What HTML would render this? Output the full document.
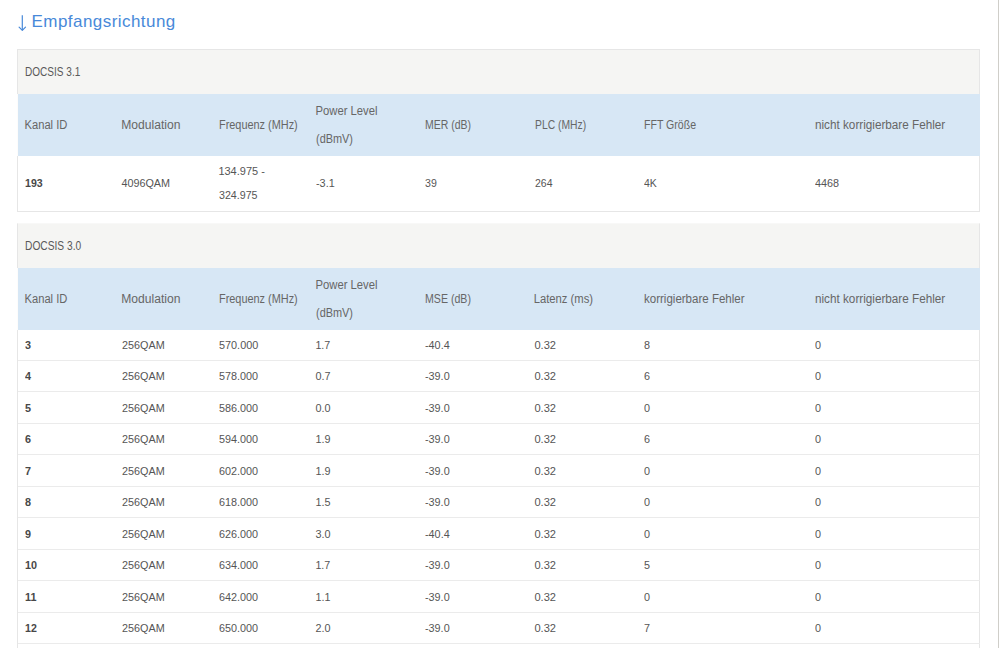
<!DOCTYPE html>
<html><head><meta charset="utf-8"><title>Empfangsrichtung</title>
<style>
html,body{margin:0;padding:0;background:#fff;}
body{width:999px;height:648px;overflow:hidden;position:relative;font-family:"Liberation Sans",sans-serif;}
.vline{position:absolute;left:998px;top:0;width:1px;height:648px;background:#cfcec9;}
h2{position:absolute;left:31.5px;top:10px;margin:0;font-weight:normal;font-size:17px;line-height:24px;letter-spacing:0.45px;color:#4889d9;white-space:nowrap;}
.arrow{position:absolute;left:0;top:0;}
.box{position:absolute;left:17px;width:961px;border:1px solid #e6e6e6;background:#fff;}
.cap{height:43.7px;background:#f5f5f3;color:#595959;font-size:12.3px;line-height:43.7px;padding-left:7px;}
table{border-collapse:collapse;table-layout:fixed;width:962px;margin:0;}
.s{display:inline-block;transform-origin:0 50%;white-space:nowrap;position:relative;}
th .s{top:1px;}
#t1 td .s{top:0px;}
#t2 td .s{top:0.3px;}
th,td{text-align:left;vertical-align:middle;padding:0 0 0 6.5px;overflow:visible;white-space:nowrap;}
tr.hd{background:#d7e7f5;}
tr.hd th:first-child{box-shadow:-1px 0 0 #fdfcfb;}
tr.hd th{height:62px;color:#666;font-weight:normal;font-size:12.3px;line-height:27.4px;}
tr.dr td{color:#555;font-size:11.5px;line-height:24.6px;border-bottom:1px solid #ebebeb;}
tr.dr td.b{font-weight:bold;color:#484848;}
#t1 .dr td{height:55.3px;border-bottom:0;}
#t2 .dr td{height:30.5px;}
#t2 .cap{height:43.5px;}
#t2 tr.dr.first td{height:30.3px;}
#t2{border-top-color:#f8f8f7;}
.cap .s{top:1px;}
</style></head><body>
<div class="vline"></div>
<svg class="arrow" width="40" height="40" viewBox="0 0 40 40"><path d="M22.3 15.3V30" fill="none" stroke="#4889d9" stroke-width="1.2"/><path d="M19.1 27.1L22.3 30.4L25.5 27.1" fill="none" stroke="#4889d9" stroke-width="1.2" stroke-linecap="round" stroke-linejoin="round"/></svg>
<h2>Empfangsrichtung</h2>
<div class="box" id="t1" style="top:49px;">
<div class="cap"><span class="s" style="transform:scaleX(0.8174)">DOCSIS 3.1</span></div>
<table><colgroup><col style="width:97px"><col style="width:97px"><col style="width:97px"><col style="width:109.5px"><col style="width:109.5px"><col style="width:109.5px"><col style="width:171px"><col style="width:171px"></colgroup>
<tr class='hd'><th><span class="s" style="transform:translateX(-0.5px) scaleX(0.9084)">Kanal ID</span></th><th><span class="s" style="transform:translateX(-0.8px) scaleX(0.9841)">Modulation</span></th><th><span class="s" style="transform:scaleX(0.8865)">Frequenz (MHz)</span></th><th><span class="s" style="transform:translateX(-0.5px) scaleX(0.9155)">Power Level</span><br><span class="s" style="transform:scaleX(0.8865)">(dBmV)</span></th><th><span class="s" style="transform:scaleX(0.8537)">MER (dB)</span></th><th><span class="s" style="transform:scaleX(0.8401)">PLC (MHz)</span></th><th><span class="s" style="transform:scaleX(0.8594)">FFT Größe</span></th><th><span class="s" style="transform:scaleX(0.9530)">nicht korrigierbare Fehler</span></th></tr>
<tr class='dr '><td class='b'><span class="s" style="transform:scaleX(0.9200)">193</span></td><td><span class="s" style="transform:translateX(-0.6px) scaleX(0.9396)">4096QAM</span></td><td><span class="s" style="transform:translateX(-0.6px) scaleX(0.9556)">134.975 -</span><br><span class="s" style="transform:scaleX(0.9274)">324.975</span></td><td><span class="s" style="transform:scaleX(0.9417)">-3.1</span></td><td><span class="s" style="transform:scaleX(0.9200)">39</span></td><td><span class="s" style="transform:scaleX(0.9121)">264</span></td><td><span class="s" style="transform:scaleX(0.9103)">4K</span></td><td><span class="s" style="transform:scaleX(0.9400)">4468</span></td></tr>
</table></div>
<div class="box" id="t2" style="top:223px;">
<div class="cap"><span class="s" style="transform:scaleX(0.8310)">DOCSIS 3.0</span></div>
<table><colgroup><col style="width:97px"><col style="width:97px"><col style="width:97px"><col style="width:109.5px"><col style="width:109.5px"><col style="width:109.5px"><col style="width:171px"><col style="width:171px"></colgroup>
<tr class='hd'><th><span class="s" style="transform:translateX(-0.5px) scaleX(0.9084)">Kanal ID</span></th><th><span class="s" style="transform:translateX(-0.8px) scaleX(0.9841)">Modulation</span></th><th><span class="s" style="transform:scaleX(0.8865)">Frequenz (MHz)</span></th><th><span class="s" style="transform:translateX(-0.5px) scaleX(0.9155)">Power Level</span><br><span class="s" style="transform:scaleX(0.8865)">(dBmV)</span></th><th><span class="s" style="transform:scaleX(0.8623)">MSE (dB)</span></th><th><span class="s" style="transform:translateX(-1.3px) scaleX(0.9150)">Latenz (ms)</span></th><th><span class="s" style="transform:scaleX(0.9372)">korrigierbare Fehler</span></th><th><span class="s" style="transform:scaleX(0.9530)">nicht korrigierbare Fehler</span></th></tr>
<tr class='dr first'><td class='b'><span class="s" style="transform:scaleX(0.9400)">3</span></td><td><span class="s" style="transform:scaleX(0.9406)">256QAM</span></td><td><span class="s" style="transform:scaleX(0.9442)">570.000</span></td><td><span class="s" style="transform:translateX(-0.6px) scaleX(0.9295)">1.7</span></td><td><span class="s" style="transform:scaleX(0.9403)">-40.4</span></td><td><span class="s" style="transform:translateX(-0.6px) scaleX(0.9660)">0.32</span></td><td><span class="s" style="transform:scaleX(0.9400)">8</span></td><td><span class="s" style="transform:scaleX(0.9400)">0</span></td></tr><tr class='dr '><td class='b'><span class="s" style="transform:scaleX(0.9400)">4</span></td><td><span class="s" style="transform:scaleX(0.9406)">256QAM</span></td><td><span class="s" style="transform:scaleX(0.9400)">578.000</span></td><td><span class="s" style="transform:translateX(-0.6px) scaleX(0.9400)">0.7</span></td><td><span class="s" style="transform:scaleX(0.9400)">-39.0</span></td><td><span class="s" style="transform:translateX(-0.6px) scaleX(0.9660)">0.32</span></td><td><span class="s" style="transform:scaleX(0.9400)">6</span></td><td><span class="s" style="transform:scaleX(0.9400)">0</span></td></tr><tr class='dr '><td class='b'><span class="s" style="transform:scaleX(0.9400)">5</span></td><td><span class="s" style="transform:scaleX(0.9406)">256QAM</span></td><td><span class="s" style="transform:scaleX(0.9400)">586.000</span></td><td><span class="s" style="transform:translateX(-0.6px) scaleX(0.9400)">0.0</span></td><td><span class="s" style="transform:scaleX(0.9400)">-39.0</span></td><td><span class="s" style="transform:translateX(-0.6px) scaleX(0.9660)">0.32</span></td><td><span class="s" style="transform:scaleX(0.9400)">0</span></td><td><span class="s" style="transform:scaleX(0.9400)">0</span></td></tr><tr class='dr '><td class='b'><span class="s" style="transform:scaleX(0.9400)">6</span></td><td><span class="s" style="transform:scaleX(0.9406)">256QAM</span></td><td><span class="s" style="transform:scaleX(0.9400)">594.000</span></td><td><span class="s" style="transform:translateX(-0.6px) scaleX(0.9400)">1.9</span></td><td><span class="s" style="transform:scaleX(0.9400)">-39.0</span></td><td><span class="s" style="transform:translateX(-0.6px) scaleX(0.9660)">0.32</span></td><td><span class="s" style="transform:scaleX(0.9400)">6</span></td><td><span class="s" style="transform:scaleX(0.9400)">0</span></td></tr><tr class='dr '><td class='b'><span class="s" style="transform:scaleX(0.9400)">7</span></td><td><span class="s" style="transform:scaleX(0.9406)">256QAM</span></td><td><span class="s" style="transform:scaleX(0.9400)">602.000</span></td><td><span class="s" style="transform:translateX(-0.6px) scaleX(0.9400)">1.9</span></td><td><span class="s" style="transform:scaleX(0.9400)">-39.0</span></td><td><span class="s" style="transform:translateX(-0.6px) scaleX(0.9660)">0.32</span></td><td><span class="s" style="transform:scaleX(0.9400)">0</span></td><td><span class="s" style="transform:scaleX(0.9400)">0</span></td></tr><tr class='dr '><td class='b'><span class="s" style="transform:scaleX(0.9400)">8</span></td><td><span class="s" style="transform:scaleX(0.9406)">256QAM</span></td><td><span class="s" style="transform:scaleX(0.9400)">618.000</span></td><td><span class="s" style="transform:translateX(-0.6px) scaleX(0.9400)">1.5</span></td><td><span class="s" style="transform:scaleX(0.9400)">-39.0</span></td><td><span class="s" style="transform:translateX(-0.6px) scaleX(0.9660)">0.32</span></td><td><span class="s" style="transform:scaleX(0.9400)">0</span></td><td><span class="s" style="transform:scaleX(0.9400)">0</span></td></tr><tr class='dr '><td class='b'><span class="s" style="transform:scaleX(0.9400)">9</span></td><td><span class="s" style="transform:scaleX(0.9406)">256QAM</span></td><td><span class="s" style="transform:scaleX(0.9400)">626.000</span></td><td><span class="s" style="transform:translateX(-0.6px) scaleX(0.9400)">3.0</span></td><td><span class="s" style="transform:scaleX(0.9403)">-40.4</span></td><td><span class="s" style="transform:translateX(-0.6px) scaleX(0.9660)">0.32</span></td><td><span class="s" style="transform:scaleX(0.9400)">0</span></td><td><span class="s" style="transform:scaleX(0.9400)">0</span></td></tr><tr class='dr '><td class='b'><span class="s" style="transform:scaleX(0.9400)">10</span></td><td><span class="s" style="transform:scaleX(0.9406)">256QAM</span></td><td><span class="s" style="transform:scaleX(0.9400)">634.000</span></td><td><span class="s" style="transform:translateX(-0.6px) scaleX(0.9295)">1.7</span></td><td><span class="s" style="transform:scaleX(0.9400)">-39.0</span></td><td><span class="s" style="transform:translateX(-0.6px) scaleX(0.9660)">0.32</span></td><td><span class="s" style="transform:scaleX(0.9400)">5</span></td><td><span class="s" style="transform:scaleX(0.9400)">0</span></td></tr><tr class='dr '><td class='b'><span class="s" style="transform:scaleX(0.9400)">11</span></td><td><span class="s" style="transform:scaleX(0.9406)">256QAM</span></td><td><span class="s" style="transform:scaleX(0.9400)">642.000</span></td><td><span class="s" style="transform:translateX(-0.6px) scaleX(0.9400)">1.1</span></td><td><span class="s" style="transform:scaleX(0.9400)">-39.0</span></td><td><span class="s" style="transform:translateX(-0.6px) scaleX(0.9660)">0.32</span></td><td><span class="s" style="transform:scaleX(0.9400)">0</span></td><td><span class="s" style="transform:scaleX(0.9400)">0</span></td></tr><tr class='dr '><td class='b'><span class="s" style="transform:scaleX(0.9200)">12</span></td><td><span class="s" style="transform:scaleX(0.9406)">256QAM</span></td><td><span class="s" style="transform:scaleX(0.9400)">650.000</span></td><td><span class="s" style="transform:translateX(-0.6px) scaleX(0.9400)">2.0</span></td><td><span class="s" style="transform:scaleX(0.9400)">-39.0</span></td><td><span class="s" style="transform:translateX(-0.6px) scaleX(0.9660)">0.32</span></td><td><span class="s" style="transform:scaleX(0.9400)">7</span></td><td><span class="s" style="transform:scaleX(0.9400)">0</span></td></tr><tr class='dr '><td class='b'><span class="s" style="transform:scaleX(0.9400)">13</span></td><td><span class="s" style="transform:scaleX(0.9406)">256QAM</span></td><td><span class="s" style="transform:scaleX(0.9400)">658.000</span></td><td><span class="s" style="transform:translateX(-0.6px) scaleX(0.9400)">1.6</span></td><td><span class="s" style="transform:scaleX(0.9400)">-39.0</span></td><td><span class="s" style="transform:translateX(-0.6px) scaleX(0.9660)">0.32</span></td><td><span class="s" style="transform:scaleX(0.9400)">0</span></td><td><span class="s" style="transform:scaleX(0.9400)">0</span></td></tr>
</table></div>
</body></html>
